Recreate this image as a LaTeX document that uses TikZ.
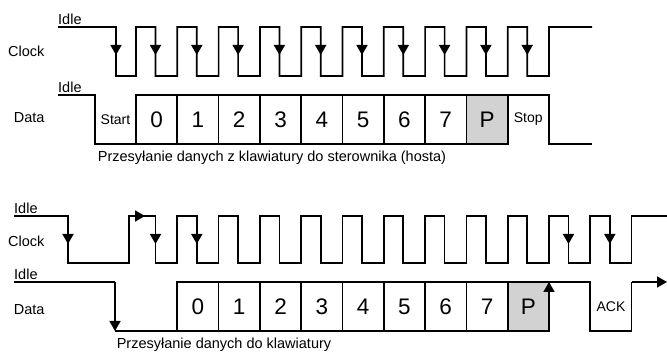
\documentclass[tikz,border=0pt]{standalone}
\usepackage{fontspec}
\setmainfont{Liberation Sans}
\usepackage{tikz}
\usetikzlibrary{arrows.meta}

\begin{document}
\begin{tikzpicture}[x=1pt, y=-1pt, font=\fontsize{14.5}{17}\selectfont,
    sig/.style={line width=1.7pt, line join=miter},
    tip/.style={sig, -{Triangle[length=10pt, width=11pt]}},
    cell/.style={draw, line width=1.7pt, minimum width=41.3pt, minimum height=49pt,
      inner sep=0pt, outer sep=0pt, font=\fontsize{22.5}{26}\selectfont},
    bitlabel/.style={inner sep=0pt, font=\fontsize{14}{16}\selectfont},
    idle/.style={anchor=south west, inner sep=0pt, yshift=2pt}]
  \useasboundingbox (0,0) rectangle (667,352);

  % ---- device to host ----
  % clock: idle high, falls, then 10 pulses
  \node[anchor=east] (clk1) at (48,51) {Clock};
  \node[idle] (idleclk1) at (58,27) {Idle};
  \draw[sig] (58,27) -- (116,27) -- (116,76) -- (136,76)
    \foreach \k in {0,...,9} { -- ({136+41.3*\k},27) -- ({155.5+41.3*\k},27)
      -- ({155.5+41.3*\k},76) -- ({177.3+41.3*\k},76) }
    -- (549,27) -- (592,27);
  % sampling arrows on every falling edge
  \draw[tip] (116,45) -- (116,55);
  \foreach \k in {0,...,9}
    \draw[tip] ({155.5+41.3*\k},45) -- ({155.5+41.3*\k},55);

  % data: start bit, 8 data bits, parity, stop bit
  \node[anchor=east] (dat1) at (48,118) {Data};
  \node[idle] (idledat1) at (58,95) {Idle};
  \foreach \t [count=\i from 0] in {0,1,2,3,4,5,6,7}
    \node[cell] (a\i) at ({156.65+41.3*\i},119.5) {\t};
  \node[cell, fill=gray!35] (aP) at ({156.65+41.3*8},119.5) {P};
  \draw[sig] (58,95) -- (95,95) -- (95,144) -- (a0.south west);
  \node[bitlabel] (start1) at (115.5,119.5) {Start};
  \draw[sig] (aP.north east) -- ++(41.3,0) coordinate (stop1)
    -- ++(0,49) -- (592,144);
  \node[bitlabel] (stop1txt) at (528.3,119.5) {Stop};
  \node (cap1) at (272,158) {Przesyłanie danych z klawiatury do sterownika (hosta)};

  % ---- host to device ----
  % clock: host pulls low, then device clocks 11 bits + ack
  \node[anchor=east] (clk2) at (48,241) {Clock};
  \node[idle] (idleclk2) at (14,216) {Idle};
  \draw[sig] (14,216) -- (68,216) -- (68,263) -- (129,263) -- (129,216)
    -- (155.5,216) -- (155.5,263)
    \foreach \k in {1,...,11} { -- ({136+41.3*\k},263) -- ({136+41.3*\k},216)
      -- ({155.5+41.3*\k},216) -- ({155.5+41.3*\k},263) }
    -- (631.6,263) -- (631.6,216) -- (667,216);
  \draw[tip] (68,234) -- (68,244);
  \draw[tip] (135,216) -- (145,216);
  \foreach \k in {0,1,10,11}
    \draw[tip] ({155.5+41.3*\k},234) -- ({155.5+41.3*\k},244);

  % data: request to send, 8 data bits, parity, ack
  \node[anchor=east] (dat2) at (48,310) {Data};
  \node[idle] (idledat2) at (14,282) {Idle};
  \foreach \t [count=\i from 0] in {0,1,2,3,4,5,6,7}
    \node[cell] (b\i) at ({197.95+41.3*\i},306.5) {\t};
  \node[cell, fill=gray!35] (bP) at ({197.95+41.3*8},306.5) {P};
  \draw[sig] (14,282) -- (115,282) coordinate (rts);
  \draw[tip] (rts) -- (115,331);
  \draw[sig] (115,331) -- (b0.south west);
  \draw[tip] (bP.south east) -- (bP.north east);
  \draw[sig] (bP.north east) -- (590.3,282) -- (590.3,331) -- (631.6,331)
    -- (631.6,282) coordinate (ack2);
  \draw[tip] (ack2) -- (667,282);
  \node[bitlabel] (acktxt) at (611,307) {ACK};
  \node (cap2) at (224,345) {Przesyłanie danych do klawiatury};
\end{tikzpicture}
\end{document}
